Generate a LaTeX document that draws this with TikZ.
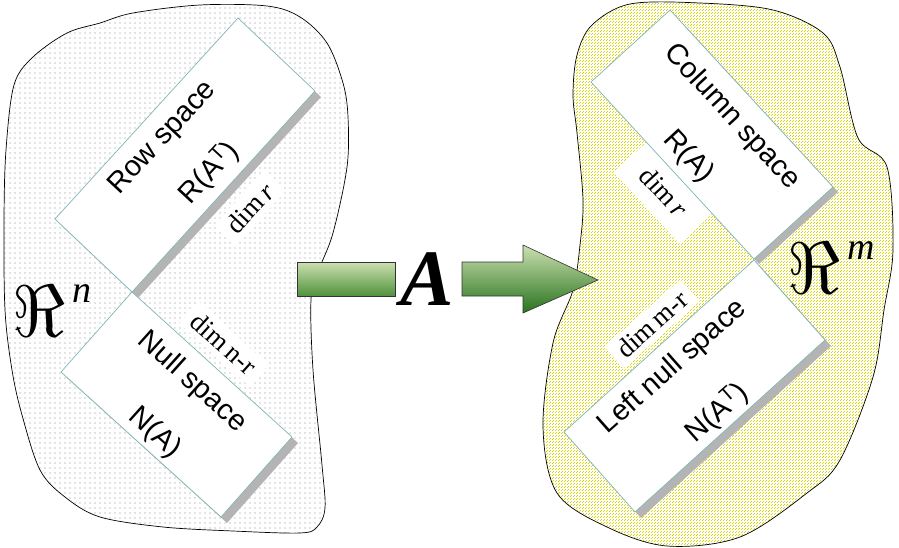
\documentclass[tikz,border=0pt]{standalone}
\usepackage{fontspec}
\usepackage{graphicx}
\setmainfont{Liberation Serif}
\newfontfamily\arialf{Liberation Sans}
\usetikzlibrary{patterns}

\pgfdeclarepatternformonly{graydots}{\pgfqpoint{-1pt}{-1pt}}{\pgfqpoint{1pt}{1pt}}{\pgfqpoint{5pt}{5pt}}{\pgfpathcircle{\pgfpointorigin}{0.6pt}\pgfusepath{fill}}
\pgfdeclarepatternformonly{ydots}{\pgfqpoint{0pt}{0pt}}{\pgfqpoint{3pt}{3pt}}{\pgfqpoint{3pt}{3pt}}{\pgfpathrectangle{\pgfpointorigin}{\pgfqpoint{1pt}{1pt}}\pgfpathrectangle{\pgfqpoint{1.5pt}{1.5pt}}{\pgfqpoint{1pt}{1pt}}\pgfusepath{fill}}

\definecolor{rectline}{RGB}{130,180,180}
\definecolor{shadowgray}{RGB}{180,180,180}
\definecolor{dotgray}{RGB}{140,140,140}
\definecolor{dotyellow}{RGB}{215,215,0}
\definecolor{gtop}{RGB}{204,224,176}
\definecolor{gbot}{RGB}{80,145,60}
\definecolor{gdark}{RGB}{40,115,30}

\newcommand{\realsym}[1]{\scalebox{7.3}{$\Re$}\hspace{7pt}\raisebox{34pt}{\fontsize{38}{38}\selectfont\textit{#1}}}

\begin{document}
\begin{tikzpicture}[x=1pt,y=-1pt,
  blobline/.style={draw=black, line width=0.7pt},
  rectbox/.style={draw=rectline, fill=white, line width=0.7pt},
  shadowbox/.style={fill=shadowgray},
  spacelabel/.style={font=\arialf\fontsize{29}{31}\selectfont, align=center, inner sep=0pt},
  dimlabel/.style={font=\fontsize{27}{29}\selectfont, fill=white, inner xsep=8pt, inner ysep=5pt},
  realsp/.style={font=\fontsize{10}{10}\selectfont, inner sep=0pt},
  arrowpart/.style={draw=black!80, line width=0.6pt, top color=gtop, bottom color=gbot}
]
\useasboundingbox (0,0) rectangle (899,548);

% ---------- left blob (R^n) ----------
\path[blobline, preaction={fill=white}, pattern=graydots, pattern color=dotgray]
  plot[smooth cycle, tension=0.55] coordinates {
  (200,5) (267,6) (300,17) (327,43) (343,83) (348,117) (347,167) (333,233)
  (318,272) (311,300) (313,370) (322,465) (325,508) (317,527) (300,533)
  (233,531) (163,527) (100,517) (65,497) (40,470) (22,415) (12,370)
  (5,310) (4,220) (6,150) (14,85) (33,57) (67,33) (100,23) (133,13)};

% ---------- right blob (R^m) ----------
\path[blobline, preaction={fill=white}, pattern=ydots, pattern color=dotyellow]
  plot[smooth cycle, tension=0.55] coordinates {
  (630,4) (700,3) (773,10) (823,33) (840,67) (858,138) (887,167) (893,250)
  (884,310) (873,377) (840,460) (807,493) (740,537) (667,546) (607,527)
  (557,493) (543,427) (553,343) (573,290) (580,245) (583,200) (577,133)
  (573,95) (577,55) (592,25)};

% ---------- corner coordinates ----------
\coordinate (RT) at (238,18);  \coordinate (RR) at (315,91);
\coordinate (RB) at (132,292); \coordinate (RL) at (55,219);
\coordinate (NT) at (132,292); \coordinate (NR) at (292,437);
\coordinate (NB) at (221,517); \coordinate (NL) at (61,372);
\coordinate (CT) at (670,10);  \coordinate (CR) at (833,187);
\coordinate (CB) at (754,259); \coordinate (CL) at (591,82);
\coordinate (LT) at (754,260); \coordinate (LR) at (825,340);
\coordinate (LB) at (635,512); \coordinate (LL) at (564,432);

% ---------- dim labels (white boxes) ----------
\node[dimlabel, rotate=47] (dimr1) at (250,208) {dim\,\textit{r}};
\node[dimlabel, rotate=-42] (dimnr) at (224,344) {dim\,n-r};
\node[dimlabel, rotate=-47.4, inner xsep=20pt, inner ysep=14pt] (dimr2) at (664,192) {dim\,\textit{r}};
\node[dimlabel, rotate=41.5] (dimmr) at (652,324) {dim\,m-r};

% ---------- left rectangles ----------
\fill[shadowbox] ([shift={(6,6)}]RT) -- ([shift={(6,6)}]RR) -- ([shift={(6,6)}]RB) -- ([shift={(6,6)}]RL) -- cycle;
\path[rectbox] (RT) -- (RR) -- (RB) -- (RL) -- cycle;
\fill[shadowbox] ([shift={(6,6)}]NT) -- ([shift={(6,6)}]NR) -- ([shift={(6,6)}]NB) -- ([shift={(6,6)}]NL) -- cycle;
\path[rectbox] (NT) -- (NR) -- (NB) -- (NL) -- cycle;

% ---------- right rectangles ----------
\fill[shadowbox] ([shift={(5,5)}]CT) -- ([shift={(5,5)}]CR) -- ([shift={(5,5)}]CB) -- ([shift={(5,5)}]CL) -- cycle;
\path[rectbox] (CT) -- (CR) -- (CB) -- (CL) -- cycle;
\fill[shadowbox] ([shift={(6,6)}]LT) -- ([shift={(6,6)}]LR) -- ([shift={(6,6)}]LB) -- ([shift={(6,6)}]LL) -- cycle;
\path[rectbox] (LT) -- (LR) -- (LB) -- (LL) -- cycle;

% ---------- texts in rectangles ----------
\node[spacelabel, rotate=47] (rowt) at (163,138) {Row space};
\node[spacelabel, rotate=47] (rowr) at (209,173) {R(A\textsuperscript{T})};
\node[spacelabel, rotate=-42] (nullt) at (192,382) {Null space};
\node[spacelabel, rotate=-42] (nulln) at (155,433) {N(A)};
\node[spacelabel, rotate=-47.4] (colt) at (732,117) {Column space};
\node[spacelabel, rotate=-47.4] (colr) at (688,157) {R(A)};
\node[spacelabel, rotate=41.5] (lnt) at (673,367) {Left null space};
\node[spacelabel, rotate=41.5] (lnn) at (717,413) {N(A\textsuperscript{T})};

% ---------- R^n and R^m ----------
\node[realsp] (rn) at (52,311) {\realsym{n}};
\node[realsp] (rm) at (831,268) {\realsym{m}};

% ---------- arrow A ----------
\path[arrowpart] (297,262) rectangle (395,296);
\node[font=\fontsize{80}{80}\selectfont\bfseries\itshape, inner sep=0pt] (amap) at (427,279) {A};
\path[arrowpart, bottom color=gdark] (462,262) -- (523,262) -- (523,245) -- (598,280)
  -- (523,313) -- (523,296) -- (462,296) -- cycle;
\end{tikzpicture}
\end{document}
